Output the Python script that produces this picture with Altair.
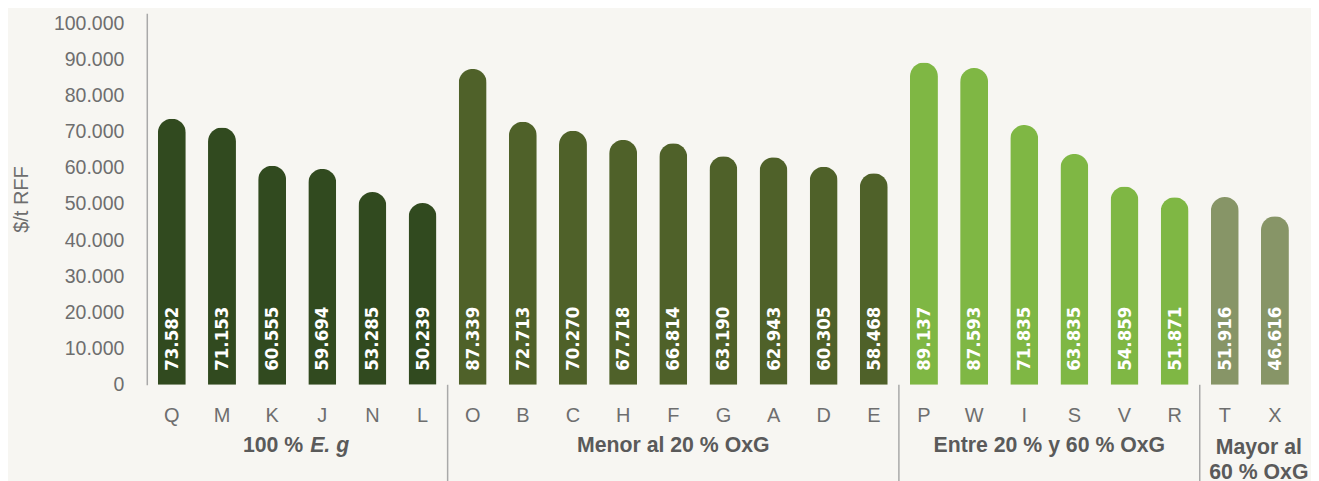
import altair as alt
import pandas as pd

# ---- data ----
letters = ["Q", "M", "K", "J", "N", "L",
           "O", "B", "C", "H", "F", "G", "A", "D", "E",
           "P", "W", "I", "S", "V", "R",
           "T", "X"]
values = [73582, 71153, 60555, 59694, 53285, 50239,
          87339, 72713, 70270, 67718, 66814, 63190, 62943, 60305, 58468,
          89137, 87593, 71835, 63835, 54859, 51871,
          51916, 46616]
group_names = ["100 % E. g", "Menor al 20 % OxG", "Entre 20 % y 60 % OxG", "Mayor al 60 % OxG"]
group_sizes = [6, 9, 6, 2]
group_colors = ["#314a1f", "#4f6129", "#7fb744", "#879567"]
y_ticks = list(range(0, 100001, 10000))

# ---- tables built from the arrays ----
groups = []
for g, n in zip(group_names, group_sizes):
    groups += [g] * n
bars_df = pd.DataFrame({
    "letter": letters,
    "value": values,
    "group": groups,
    "pos": [i + 0.5 for i in range(len(letters))],
    "label": [f"{v:,}".replace(",", ".") for v in values],
})

starts, ends = [], []
acc = 0
for n in group_sizes:
    starts.append(acc)
    acc += n
    ends.append(acc)
grp_df = pd.DataFrame({
    "group": group_names,
    "idx": list(range(len(group_names))),
    "start": starts,
    "end": ends,
    "mid": [(s + e) / 2 for s, e in zip(starts, ends)],
})

H = 372
W = 1155
FONT = "Liberation Sans"
COND = "'DejaVu Sans Condensed', 'Roboto Condensed', Roboto, 'Liberation Sans'"
GREY = "#6e6e6e"
LINE = "#a9a9a9"
GCOL = "#5a5a5a"
GSIZE = 21.3

x_scale = alt.Scale(domain=[0, len(letters)], nice=False, zero=False, padding=0)
y_scale = alt.Scale(domain=[0, 102700], nice=False)
y_base = alt.value(H)          # the zero baseline (bottom of the plot area)

base = alt.Chart(bars_df)

bars = base.mark_bar(size=28, cornerRadiusTopLeft=14, cornerRadiusTopRight=14).encode(
    x=alt.X("pos:Q", scale=x_scale,
            axis=alt.Axis(labels=False, ticks=False, grid=False, title=None,
                          domainColor=LINE, domainWidth=1.5)),
    y=alt.Y("value:Q", scale=y_scale,
            axis=alt.Axis(values=y_ticks, grid=False, ticks=False, tickSize=0,
                          labelOverlap=False,
                          labelPadding=23, labelFont=FONT, labelFontSize=19.5,
                          labelColor=GREY,
                          labelExpr="replace(format(datum.value, ','), regexp(',', 'g'), '.')",
                          domainColor=LINE, domainWidth=1.5,
                          title="$/t RFF", titleFont=FONT, titleFontSize=20,
                          titleFontWeight="normal", titleColor=GREY,
                          titleX=-125, titleBaseline="middle")),
    color=alt.Color("group:N", scale=alt.Scale(domain=group_names, range=group_colors), legend=None),
)

value_text = base.mark_text(angle=270, align="left", baseline="middle", dx=14,
                            font=COND, fontWeight="bold",
                            fontSize=18.5, color="white").encode(
    x=alt.X("pos:Q", scale=x_scale, axis=None),
    y=y_base,
    text="label:N",
)

letter_text = base.mark_text(align="center", baseline="middle", dy=31,
                             font=FONT, fontSize=20, color=GREY).encode(
    x=alt.X("pos:Q", scale=x_scale, axis=None),
    y=y_base,
    text="letter:N",
)

gbase = alt.Chart(grp_df)

grp_mid = gbase.transform_filter("datum.idx == 1 || datum.idx == 2").mark_text(
    align="center", baseline="middle", dy=61, font=FONT, fontSize=GSIZE,
    fontWeight="bold", color=GCOL).encode(
    x=alt.X("mid:Q", scale=x_scale, axis=None),
    y=y_base,
    text="group:N",
)

grp0a = gbase.transform_filter("datum.idx == 0").transform_calculate(
    t="'100 %'").mark_text(
    align="right", baseline="middle", dy=61, dx=6, font=FONT, fontSize=GSIZE,
    fontWeight="bold", color=GCOL).encode(
    x=alt.X("mid:Q", scale=x_scale, axis=None),
    y=y_base,
    text="t:N",
)
grp0b = gbase.transform_filter("datum.idx == 0").transform_calculate(
    t="'E. g'").mark_text(
    align="left", baseline="middle", dy=61, dx=13, font=FONT, fontSize=GSIZE,
    fontWeight="bold", fontStyle="italic", color=GCOL).encode(
    x=alt.X("mid:Q", scale=x_scale, axis=None),
    y=y_base,
    text="t:N",
)

grp3 = gbase.transform_filter("datum.idx == 3").transform_calculate(
    t="'Mayor al|60 % OxG'").mark_text(
    align="center", baseline="top", dy=52, dx=9, lineBreak="|", lineHeight=25,
    font=FONT, fontSize=GSIZE, fontWeight="bold", color=GCOL).encode(
    x=alt.X("mid:Q", scale=x_scale, axis=None),
    y=y_base,
    text="t:N",
)

seps = gbase.transform_filter("datum.idx > 0").mark_rule(color=LINE, strokeWidth=1.5).encode(
    x=alt.X("start:Q", scale=x_scale, axis=None),
    y=y_base,
    y2=alt.value(H + 100),
)

chart = alt.layer(bars, value_text, letter_text, grp_mid, grp0a, grp0b, grp3, seps).properties(
    width=W, height=H,
    autosize=alt.AutoSizeParams(type="none"),
    padding={"left": 139, "top": 5, "right": 11, "bottom": 100},
    background="#f7f6f2",
).configure_view(stroke=None)

chart.save("out.html", embed_options={"renderer": "svg", "actions": False})
